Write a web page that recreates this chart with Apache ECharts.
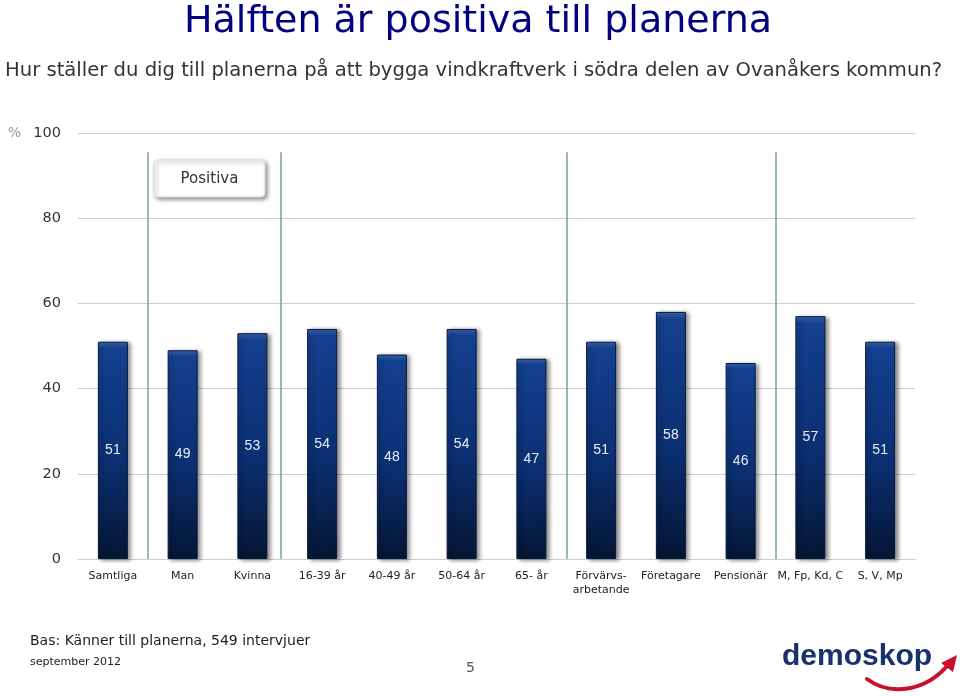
<!DOCTYPE html>
<html><head><meta charset="utf-8">
<script src="https://cdn.jsdelivr.net/npm/echarts@6/dist/echarts.min.js"></script>
<style>html,body{margin:0;padding:0;background:#fff}#c{width:960px;height:696px}</style>
</head><body><div id="c"></div>
<script>
const categories = ['Samtliga','Man','Kvinna','16-39 år','40-49 år','50-64 år','65- år','Förvärvs-\narbetande','Företagare','Pensionär','M, Fp, Kd, C','S, V, Mp'];
const positiva = [51,49,53,54,48,54,47,51,58,46,57,51];
const yTicks = [0,20,40,60,80,100];
const separators = [1, 2.9, 7, 10];
const sepTop = 95.5;

const chart = echarts.init(document.getElementById('c'));
const font = 'DejaVu Sans, sans-serif';
const font2 = 'Liberation Sans, Arial, sans-serif';
chart.setOption({
  animation: false,
  grid: {left: 78, right: 45, top: 133, bottom: 137},
  title: [
    {text: 'Hälften är positiva till planerna', left: 473, textAlign: 'center', top: -2,
     textStyle: {color: '#000080', fontSize: 38, fontWeight: 'normal', fontFamily: font}},
    {text: 'Hur ställer du dig till planerna på att bygga vindkraftverk i södra delen av Ovanåkers kommun?', left: 0, top: 56,
     textStyle: {color: '#333', fontSize: 19.6, fontWeight: 'normal', fontFamily: font}}
  ],
  xAxis: [{
    type: 'category', data: categories,
    axisLine: {lineStyle: {color: '#c8cfcf'}}, axisTick: {show: false},
    axisLabel: {color: '#222', fontSize: 11, fontFamily: font, margin: 10, interval: 0, lineHeight: 14}
  }, {
    type: 'value', min: 0, max: 12, show: false
  }],
  yAxis: {
    type: 'value', min: 0, max: 100, interval: 20,
    axisLine: {show: false}, axisTick: {show: false},
    axisLabel: {color: '#333', fontSize: 14.5, fontFamily: font, margin: 17},
    splitLine: {lineStyle: {color: '#c8cfcf', width: 1}}
  },
  series: [{
    type: 'bar', data: positiva, barWidth: 30,
    itemStyle: {
      color: new echarts.graphic.LinearGradient(0,0,0,1,[
        {offset:0,color:'#3a69b6'},{offset:0.03,color:'#14408f'},{offset:0.55,color:'#0b2f72'},{offset:1,color:'#051634'}]),
      borderColor: '#06183d', borderWidth: 1,
      shadowColor: 'rgba(0,0,0,0.45)', shadowBlur: 4, shadowOffsetX: 3, shadowOffsetY: 1
    },
    label: {show: true, position: 'inside', color: '#e8eef8', fontSize: 14, fontFamily: font2}
  }, {
    type: 'line', xAxisIndex: 1, data: [], symbol: 'none',
    markLine: {
      silent: true, symbol: 'none', label: {show: false},
      lineStyle: {color: '#7e9ca2', type: 'solid', width: 1.5},
      data: separators.map(s => [{coord: [s, 0]}, {coord: [s, sepTop]}])
    }
  }],
  graphic: [
    {type: 'text', x: 8, y: 126, style: {text: '%', fill: '#999', fontSize: 14, fontFamily: font}},
    {type: 'rect', shape: {x: 154, y: 160, width: 111, height: 37, r: 4},
     style: {fill: '#fff', stroke: '#ddd', lineWidth: 1, shadowColor: 'rgba(0,0,0,0.45)', shadowBlur: 4, shadowOffsetX: 2, shadowOffsetY: 2}},
    {type: 'text', x: 209.5, y: 179, style: {text: 'Positiva', fill: '#333', fontSize: 15, fontFamily: font, align: 'center', verticalAlign: 'middle'}},
    {type: 'text', x: 30, y: 634, style: {text: 'Bas: Känner till planerna, 549 intervjuer', fill: '#222', fontSize: 14, fontFamily: font}},
    {type: 'text', x: 30, y: 657, style: {text: 'september 2012', fill: '#222', fontSize: 11, fontFamily: font}},
    {type: 'text', x: 466, y: 661, style: {text: '5', fill: '#555', fontSize: 14, fontFamily: font}},
    {type: 'text', x: 782, y: 642, style: {text: 'demoskop', fill: '#1a3170', fontSize: 30, fontWeight: 'bold', fontFamily: font2}},
    {type: 'bezierCurve', shape: {x1: 867, y1: 679, cpx1: 890, cpy1: 696, cpx2: 925, cpy2: 692, x2: 948, y2: 665},
     style: {stroke: '#c8102e', lineWidth: 4, fill: 'none', lineCap: 'round'}},
    {type: 'polygon', shape: {points: [[941, 663], [957, 655], [953, 672]]}, style: {fill: '#c8102e'}}
  ]
});
</script></body></html>
